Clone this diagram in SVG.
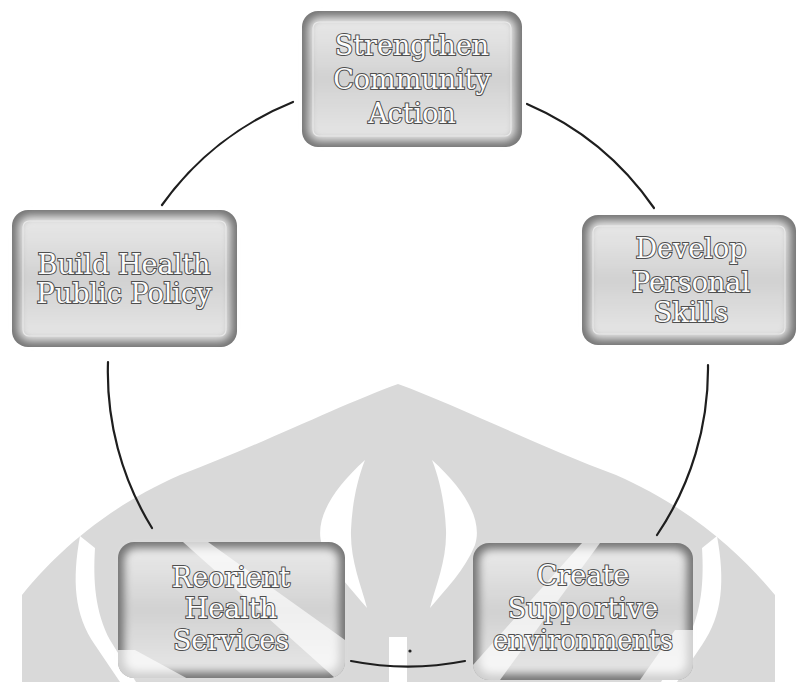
<svg xmlns="http://www.w3.org/2000/svg" width="797" height="682" viewBox="0 0 797 682">
<defs>
  <linearGradient id="face" x1="0" y1="0" x2="0" y2="1">
    <stop offset="0" stop-color="#f7f7f7"/>
    <stop offset="0.5" stop-color="#dcdcdc"/>
    <stop offset="1" stop-color="#f3f3f3"/>
  </linearGradient>
  <filter id="soft" x="-10%" y="-10%" width="120%" height="120%">
    <feGaussianBlur stdDeviation="4"/>
  </filter>
  <clipPath id="clipR"><rect x="118" y="542" width="227" height="136" rx="16"/></clipPath>
  <clipPath id="clipC"><rect x="473" y="543" width="220" height="137" rx="16"/></clipPath>
</defs>
<style>
  .rim{fill:#747474}
  .face{fill:url(#face);filter:url(#soft);opacity:.9}
  .inner{fill:none;stroke:#ffffff;stroke-opacity:.5;stroke-width:1.2}
  .lbl{font-family:"DejaVu Serif","Liberation Serif",serif;font-size:27px;fill:#fcfcfc;stroke:#4e4e4e;stroke-width:2px;paint-order:stroke fill;text-anchor:middle}
  .conn path{fill:none;stroke:#1e1e1e;stroke-width:2.2;stroke-linecap:round}
  .wm{fill:#d9d9d9}
  .gap{fill:#ffffff}
  .band{fill:#ffffff;opacity:.65}
</style>
<rect width="797" height="682" fill="#ffffff"/>

<g id="watermark">
  <path class="wm" d="M 22 682 L 22 595 C 50 560 100 510 180 475 C 260 445 340 405 398 384 C 456 405 536 445 616 475 C 696 510 746 560 775 595 L 775 682 Z"/>
  <path class="gap" d="M 80 536 C 72 580 74 615 95 645 L 120 682 L 136 682 L 110 640 C 95 612 93 580 95 548 Z"/>
  <path class="gap" d="M 717 536 C 725 580 723 615 702 645 L 677 682 L 661 682 L 687 640 C 702 612 704 580 702 548 Z"/>
  <path class="gap" d="M 365 460 C 332 490 314 520 322 545 C 332 570 352 590 367 608 C 361 585 350 560 351 530 C 352 505 357 480 365 460 Z"/>
  <path class="gap" d="M 432 460 C 465 490 483 520 475 545 C 465 570 445 590 430 608 C 436 585 447 560 446 530 C 445 505 440 480 432 460 Z"/>
  <rect class="gap" x="389" y="637" width="18" height="45"/>
</g>

<g id="connectors" class="conn">
  <path d="M 162 205 A 297 297 0 0 1 293 102"/>
  <path d="M 527 104 A 297 297 0 0 1 654 208"/>
  <path d="M 708 365 A 297 297 0 0 1 657 535"/>
  <path d="M 465 661 A 297 297 0 0 1 351 661"/>
  <path d="M 152 528 A 297 297 0 0 1 108 362"/>
  <circle cx="410" cy="651" r="1.6" fill="#222" stroke="none"/>
</g>

<g id="node-strengthen">
  <rect class="rim" x="302" y="11" width="220" height="136" rx="16"/>
  <rect class="face" x="308" y="17" width="208" height="124" rx="12"/>
  <rect class="inner" x="313" y="22" width="198" height="114" rx="6"/>
  <text class="lbl" x="412" y="55">Strengthen</text>
  <text class="lbl" x="412" y="89">Community</text>
  <text class="lbl" x="412" y="123">Action</text>
</g>

<g id="node-build">
  <rect class="rim" x="12" y="210" width="225" height="137" rx="16"/>
  <rect class="face" x="18" y="216" width="213" height="125" rx="12"/>
  <rect class="inner" x="23" y="221" width="203" height="115" rx="6"/>
  <text class="lbl" x="124" y="274">Build Health</text>
  <text class="lbl" x="124" y="303">Public Policy</text>
</g>

<g id="node-develop">
  <rect class="rim" x="582" y="215" width="214" height="130" rx="16"/>
  <rect class="face" x="588" y="221" width="202" height="118" rx="12"/>
  <rect class="inner" x="593" y="226" width="192" height="108" rx="6"/>
  <text class="lbl" x="691" y="258">Develop</text>
  <text class="lbl" x="691" y="292">Personal</text>
  <text class="lbl" x="691" y="322">Skills</text>
</g>

<g id="node-reorient">
  <rect class="rim" x="118" y="542" width="227" height="136" rx="16"/>
  <rect class="face" x="124" y="548" width="215" height="124" rx="12"/>
  <g clip-path="url(#clipR)">
    <polygon class="band" points="183,542 208,542 345,640 345,678 335,678"/>
    <polygon class="band" points="118,650 135,650 190,680 118,680"/>
  </g>
  <text class="lbl" x="231" y="587">Reorient</text>
  <text class="lbl" x="231" y="618">Health</text>
  <text class="lbl" x="231" y="650">Services</text>
</g>

<g id="node-create">
  <rect class="rim" x="473" y="543" width="220" height="137" rx="16"/>
  <rect class="face" x="479" y="549" width="208" height="125" rx="12"/>
  <g clip-path="url(#clipC)">
    <polygon class="band" points="582,543 600,543 500,680 473,680 473,665"/>
    <polygon class="band" points="640,680 693,680 693,630 675,630"/>
  </g>
  <text class="lbl" x="583" y="585">Create</text>
  <text class="lbl" x="583" y="618">Supportive</text>
  <text class="lbl" x="583" y="650" textLength="180" lengthAdjust="spacingAndGlyphs">environments</text>
</g>
</svg>
